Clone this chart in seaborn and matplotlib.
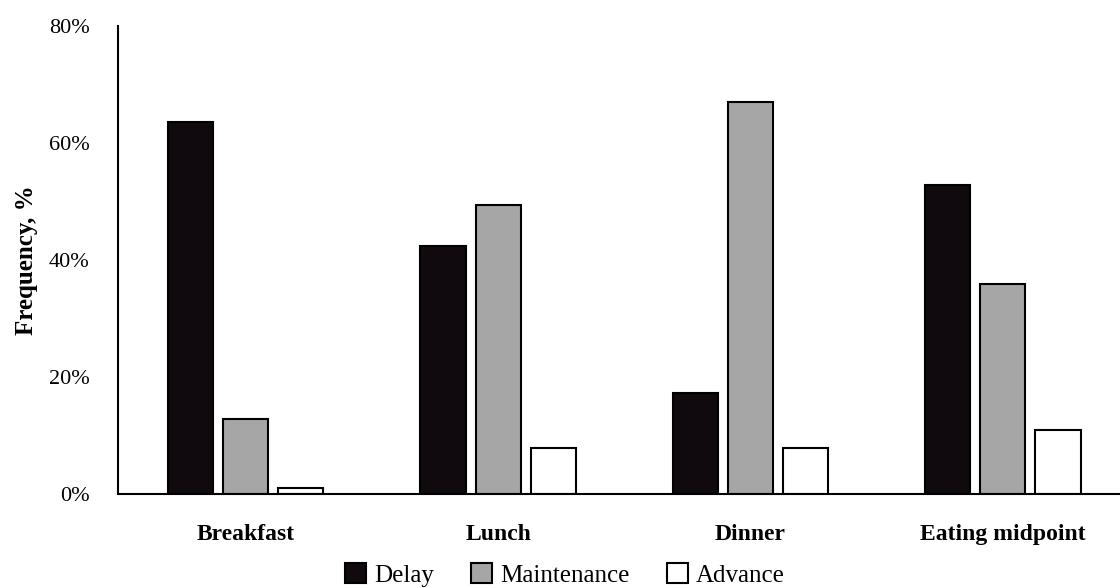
import pandas as pd
import numpy as np
import seaborn as sns
import matplotlib.pyplot as plt
from matplotlib.ticker import FuncFormatter

meals = ['Breakfast', 'Lunch', 'Dinner', 'Eating midpoint']
groups = ['Delay', 'Maintenance', 'Advance']
delay = [63.6, 42.4, 17.3, 52.8]
maintenance = [12.8, 49.3, 67.0, 35.8]
advance = [1.0, 7.9, 7.9, 11.0]
colors = ['#100a0e', '#a6a6a6', '#ffffff']

df = pd.DataFrame({
    'meal': meals * 3,
    'group': [g for g in groups for _ in meals],
    'freq': delay + maintenance + advance,
})

sns.set_style('white')
plt.rcParams['font.family'] = ['Liberation Serif', 'DejaVu Serif']
plt.rcParams['text.color'] = 'black'
plt.rcParams['axes.labelcolor'] = 'black'
plt.rcParams['xtick.color'] = 'black'
plt.rcParams['ytick.color'] = 'black'

fig = plt.figure(figsize=(11.2, 5.88), dpi=100)
ax = fig.add_axes([0.105, 0.16, 0.895, 0.796])

sns.barplot(data=df, x='meal', y='freq', hue='group', order=meals, hue_order=groups,
            palette=colors, width=0.655, gap=0.18, edgecolor='black', linewidth=1.5,
            saturation=1, ax=ax)

ax.set_ylim(0, 80)
ax.set_xlim(-0.508, 3.464)
ax.set_yticks([0, 20, 40, 60, 80])
ax.yaxis.set_major_formatter(FuncFormatter(lambda v, p: f'{int(v)}%'))
ax.tick_params(axis='y', direction='out', length=6, width=1.5, colors='black', labelsize=16, pad=14)
ax.tick_params(axis='x', length=0, labelsize=17, pad=22, colors='black')
for lab in ax.get_xticklabels():
    lab.set_fontweight('bold')
ax.set_xlabel('')
ax.set_ylabel('Frequency, %', fontsize=18, fontweight='bold', labelpad=8)
for s in ['top', 'right']:
    ax.spines[s].set_visible(False)
for s in ['left', 'bottom']:
    ax.spines[s].set_color('black')
    ax.spines[s].set_linewidth(1.5)

ax.legend(loc='center', bbox_to_anchor=((565 - 118) / 1002, -(575 - 494) / 468), ncol=3, frameon=False,
          fontsize=18, handlelength=0.85, handleheight=0.85, handletextpad=0.3, columnspacing=1.5,
          borderpad=0)

fig.savefig('out.png', dpi=100)
